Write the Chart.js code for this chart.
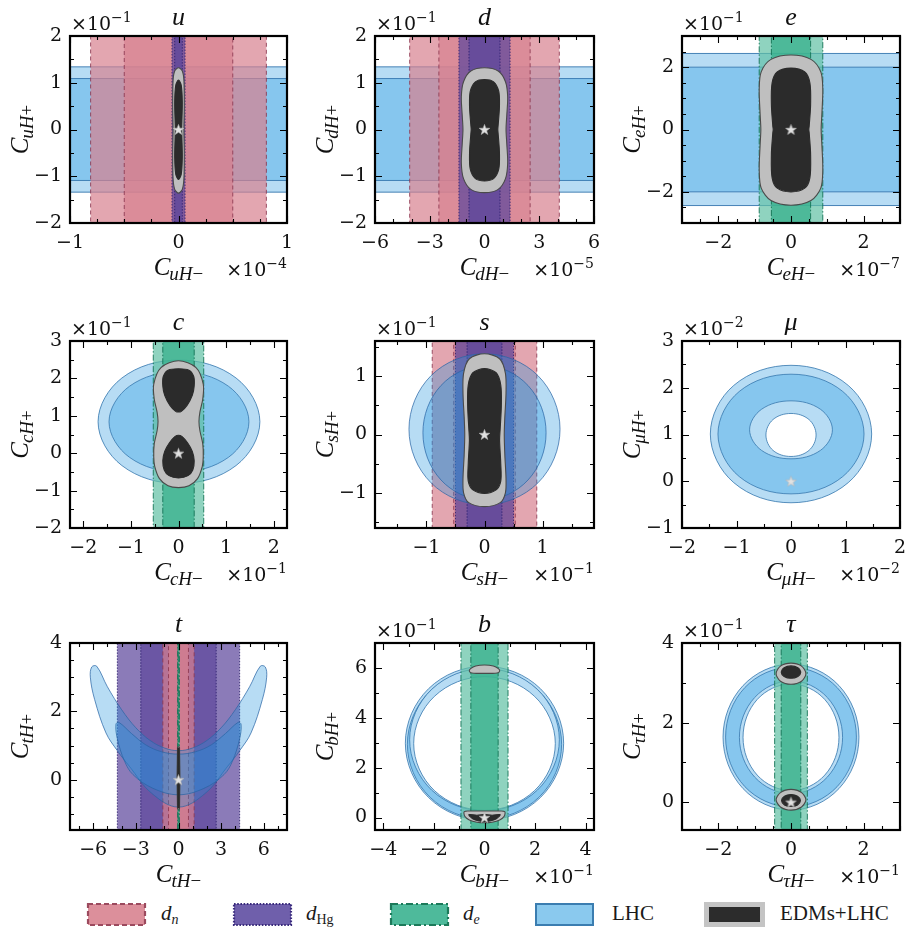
<!DOCTYPE html>
<html>
<head>
<meta charset="utf-8">
<script src="https://cdn.jsdelivr.net/npm/chart.js@4.4.1/dist/chart.umd.min.js"></script>
<style>
  html, body { margin: 0; padding: 0; background: #fff; overflow: hidden; }
  #wrap { position: relative; width: 905px; height: 947px; overflow: hidden; background: #fff; }
  canvas.panel { position: absolute; }
  .key { position: absolute; top: 902px; height: 26px; }
  .lab { position: absolute; top: 900px; font-family: 'Liberation Serif', serif; font-size: 21px; color: #1a1a1a; line-height: 26px; white-space: nowrap; }
  .lab sub { font-size: 14px; vertical-align: -4px; line-height: 0; }
</style>
</head>
<body>
<div id="wrap">
  <svg class="key" style="left:86px" width="62" height="26"><rect x="2" y="2" width="57" height="21" fill="#dc8f9b" stroke="#9b4a5e" stroke-width="2.2" stroke-dasharray="5,3"/></svg>
  <div class="lab" style="left:161px"><i>d</i><sub><i>n</i></sub></div>
  <svg class="key" style="left:232px" width="62" height="26"><rect x="2" y="2" width="57" height="21" fill="#6f5fab" stroke="#3a2b7c" stroke-width="2.2" stroke-dasharray="1.6,1.6"/></svg>
  <div class="lab" style="left:306px"><i>d</i><sub>Hg</sub></div>
  <svg class="key" style="left:389px" width="62" height="26"><rect x="2" y="2" width="57" height="21" fill="#4eba9b" stroke="#1c7a5a" stroke-width="2.2" stroke-dasharray="7,3,2,3"/></svg>
  <div class="lab" style="left:463px"><i>d</i><sub><i>e</i></sub></div>
  <svg class="key" style="left:534px" width="62" height="26"><rect x="2" y="2" width="57" height="21" fill="#8ac9ee" stroke="#3b7db0" stroke-width="2"/></svg>
  <div class="lab" style="left:612px">LHC</div>
  <svg class="key" style="left:704px" width="62" height="26"><rect x="2.5" y="2.5" width="56" height="20" fill="#2c2c2c" stroke="#c4c4c4" stroke-width="5"/></svg>
  <div class="lab" style="left:780px">EDMs+LHC</div>
</div>
<script>
// ---------- axes of the nine flavour panels ----------
const flavours   = ['u', 'd', 'e', 'c', 's', 'μ', 't', 'b', 'τ'];
const xLimits    = [[-1, 1], [-6, 6], [-3, 3], [-2.28, 2.28], [-1.885, 1.885], [-2, 2], [-7.63, 7.63], [-4.33, 4.33], [-3, 3]];
const yLimits    = [[-2, 2], [-2, 2], [-3, 3], [-2, 3], [-1.605, 1.605], [-1, 3], [-1.47, 4], [-0.5, 7], [-0.7, 4]];
const xTickVals  = [[-1, 0, 1], [-6, -3, 0, 3, 6], [-2, 0, 2], [-2, -1, 0, 1, 2], [-1, 0, 1], [-2, -1, 0, 1, 2], [-6, -3, 0, 3, 6], [-4, -2, 0, 2, 4], [-2, 0, 2]];
const yTickVals  = [[-2, -1, 0, 1, 2], [-2, -1, 0, 1, 2], [-2, 0, 2], [-2, -1, 0, 1, 2, 3], [-1, 0, 1], [-1, 0, 1, 2, 3], [0, 2, 4], [0, 2, 4, 6], [0, 2, 4]];
const xMinorStep = [0.25, 1, 0.5, 0.5, 0.5, 0.5, 1, 1, 0.5];
const yMinorStep = [0.5, 0.5, 0.5, 0.5, 0.5, 0.5, 0.5, 1, 1];
const xExponent  = [-4, -5, -7, -1, -1, -2, null, -1, -1];
const yExponent  = [-1, -1, -1, -1, -1, -2, null, -1, -1];

// ---------- EDM bounds: [1σ, 2σ] half-widths in C_{fH-} ----------
const dnHalfWidths  = [[0.50, 0.81], [2.5, 4.1], null, null, [0.53, 0.90], null, [0.70, 1.10], null, null];
const dHgHalfWidths = [[0.035, 0.06], [0.85, 1.4], null, null, [0.30, 0.50], null, [2.65, 4.3], null, null];
const deHalfWidths  = [null, null, [0.54, 0.875], [0.33, 0.53], null, null, [0.03, 0.06], [0.54, 0.93], [0.27, 0.45]];

// ---------- LHC: [1σ, 2σ] half-widths in C_{fH+} (first row) ----------
const lhcStripHalfWidths = [[1.09, 1.34], [1.09, 1.34], [2.0, 2.44], null, null, null, null, null, null];

// ---------- LHC contours (C_{fH-}, C_{fH+}) ----------
const lhcC2s = [[1.71, 0.84], [1.21, 2.01], [0.01, 2.49], [-1.19, 2.01], [-1.69, 0.84], [-1.19, -0.33], [0.01, -0.81], [1.21, -0.33]];
const lhcC1s = [[1.48, 0.84], [1.05, 1.79], [0.01, 2.18], [-1.03, 1.79], [-1.46, 0.84], [-1.03, -0.11], [0.01, -0.50], [1.05, -0.11]];
const lhcS2s = [[1.30, 0.09], [0.92, 1.01], [0, 1.385], [-0.92, 1.01], [-1.30, 0.09], [-0.92, -0.83], [0, -1.205], [0.92, -0.83]];
const lhcS1s = [[1.06, 0.03], [0.75, 0.84], [0, 1.18], [-0.75, 0.84], [-1.06, 0.03], [-0.75, -0.78], [0, -1.12], [0.75, -0.78]];
const lhcMu2sOut = [[1.48, 1.01], [1.05, 2.05], [0, 2.48], [-1.05, 2.05], [-1.48, 1.01], [-1.05, -0.03], [0, -0.46], [1.05, -0.03]];
const lhcMu1sOut = [[1.34, 1.01], [0.95, 1.92], [0, 2.29], [-0.95, 1.92], [-1.34, 1.01], [-0.95, 0.10], [0, -0.27], [0.95, 0.10]];
const lhcMu1sIn  = [[0.76, 1.10], [0.54, 1.54], [0, 1.72], [-0.54, 1.54], [-0.76, 1.10], [-0.54, 0.66], [0, 0.48], [0.54, 0.66]];
const lhcMu2sIn  = [[0.46, 0.99], [0.33, 1.32], [0, 1.45], [-0.33, 1.32], [-0.46, 0.99], [-0.33, 0.66], [0, 0.53], [0.33, 0.66]];
const lhcT2s = [[-5.75, 3.32], [-5.0, 2.72], [-4.0, 2.05], [-3.0, 1.52], [-2.0, 1.15], [-1.0, 0.93], [0, 0.85], [1.0, 0.93], [2.0, 1.15], [3.0, 1.52], [4.0, 2.05], [5.0, 2.72], [5.75, 3.32], [6.1, 3.3], [6.2, 3.0], [5.9, 2.35], [5.1, 1.37], [4.3, 0.85], [3.45, 0.39], [1.9, -0.39], [0, -0.80], [-1.9, -0.39], [-3.45, 0.39], [-4.3, 0.85], [-5.1, 1.37], [-5.9, 2.35], [-6.2, 3.0], [-6.1, 3.3]];
const lhcT1s = [[-4.2, 1.68], [-3.3, 1.35], [-2.3, 1.02], [-1.2, 0.82], [0, 0.75], [1.2, 0.82], [2.3, 1.02], [3.3, 1.35], [4.2, 1.68], [4.4, 1.62], [4.3, 1.2], [3.8, 0.55], [3.2, 0.15], [1.8, -0.25], [0, -0.44], [-1.8, -0.25], [-3.2, 0.15], [-3.8, 0.55], [-4.3, 1.2], [-4.4, 1.62]];
const lhcB2sOut = [[3.13, 2.98], [2.21, 5.17], [0, 6.07], [-2.21, 5.17], [-3.13, 2.98], [-2.21, 0.80], [0, -0.11], [2.21, 0.80]];
const lhcB1sOut = [[3.05, 2.94], [2.16, 5.06], [0, 5.94], [-2.16, 5.06], [-3.05, 2.94], [-2.16, 0.82], [0, -0.06], [2.16, 0.82]];
const lhcB1sIn  = [[2.96, 3.12], [2.09, 5.14], [0, 5.98], [-2.09, 5.14], [-2.96, 3.12], [-2.09, 1.10], [0, 0.27], [2.09, 1.10]];
const lhcB2sIn  = [[2.80, 2.97], [1.98, 4.86], [0, 5.65], [-1.98, 4.86], [-2.80, 2.97], [-1.98, 1.08], [0, 0.29], [1.98, 1.08]];
const lhcTau2sOut = [[1.87, 1.635], [1.32, 2.93], [0, 3.47], [-1.32, 2.93], [-1.87, 1.635], [-1.32, 0.34], [0, -0.20], [1.32, 0.34]];
const lhcTau1sOut = [[1.80, 1.635], [1.27, 2.88], [0, 3.39], [-1.27, 2.88], [-1.80, 1.635], [-1.27, 0.39], [0, -0.12], [1.27, 0.39]];
const lhcTau1sIn  = [[1.42, 1.63], [1.00, 2.63], [0, 3.05], [-1.00, 2.63], [-1.42, 1.63], [-1.00, 0.63], [0, 0.21], [1.00, 0.63]];
const lhcTau2sIn  = [[1.32, 1.63], [0.93, 2.58], [0, 2.97], [-0.93, 2.58], [-1.32, 1.63], [-0.93, 0.68], [0, 0.29], [0.93, 0.68]];

// ---------- EDMs+LHC combined contours ----------
const comboU2s = [[0, 1.32], [0.035, 1.25], [0.05, 1.05], [0.053, 0.5], [0.05, 0], [0.053, -0.5], [0.05, -1.05], [0.035, -1.28], [0, -1.36], [-0.035, -1.28], [-0.05, -1.05], [-0.053, -0.5], [-0.05, 0], [-0.053, 0.5], [-0.05, 1.05], [-0.035, 1.25]];
const comboU1s = [[0, 1.06], [0.025, 0.95], [0.035, 0.6], [0.031, 0.15], [0.029, 0], [0.031, -0.15], [0.035, -0.6], [0.025, -0.96], [0, -1.07], [-0.025, -0.96], [-0.035, -0.6], [-0.031, -0.15], [-0.029, 0], [-0.031, 0.15], [-0.035, 0.6], [-0.025, 0.95]];
const comboD2s = [[0, 1.32], [0.75, 1.25], [1.15, 1.02], [1.27, 0.7], [1.22, 0.3], [1.18, 0], [1.22, -0.3], [1.27, -0.72], [1.15, -1.05], [0.75, -1.28], [0, -1.35], [-0.75, -1.28], [-1.15, -1.05], [-1.27, -0.72], [-1.22, -0.3], [-1.18, 0], [-1.22, 0.3], [-1.27, 0.7], [-1.15, 1.02], [-0.75, 1.25]];
const comboD1s = [[0, 1.07], [0.5, 1.02], [0.78, 0.82], [0.82, 0.5], [0.75, 0.1], [0.73, 0], [0.75, -0.1], [0.82, -0.5], [0.78, -0.85], [0.5, -1.05], [0, -1.10], [-0.5, -1.05], [-0.78, -0.85], [-0.82, -0.5], [-0.75, -0.1], [-0.73, 0], [-0.75, 0.1], [-0.82, 0.5], [-0.78, 0.82], [-0.5, 1.02]];
const comboE2s = [[0, 2.39], [0.55, 2.25], [0.82, 1.85], [0.875, 1.3], [0.85, 0.5], [0.83, 0], [0.85, -0.5], [0.875, -1.3], [0.82, -1.88], [0.55, -2.28], [0, -2.43], [-0.55, -2.28], [-0.82, -1.88], [-0.875, -1.3], [-0.85, -0.5], [-0.83, 0], [-0.85, 0.5], [-0.875, 1.3], [-0.82, 1.85], [-0.55, 2.25]];
const comboE1s = [[0, 1.97], [0.38, 1.85], [0.52, 1.5], [0.54, 0.8], [0.5, 0.1], [0.49, 0], [0.5, -0.1], [0.54, -0.8], [0.52, -1.55], [0.38, -1.88], [0, -2.0], [-0.38, -1.88], [-0.52, -1.55], [-0.54, -0.8], [-0.5, -0.1], [-0.49, 0], [-0.5, 0.1], [-0.54, 0.8], [-0.52, 1.5], [-0.38, 1.85]];
const comboC2s = [[0, 2.47], [0.368, 2.29], [0.52, 1.85], [0.51, 1.45], [0.45, 1.10], [0.43, 0.85], [0.45, 0.60], [0.51, 0.25], [0.52, -0.10], [0.50, -0.35], [0.40, -0.68], [0.22, -0.87], [0, -0.92], [-0.22, -0.87], [-0.40, -0.68], [-0.50, -0.35], [-0.52, -0.10], [-0.51, 0.25], [-0.45, 0.60], [-0.43, 0.85], [-0.45, 1.10], [-0.51, 1.45], [-0.52, 1.85], [-0.368, 2.29]];
const comboC1sUp = [[0, 2.26], [0.22, 2.22], [0.32, 2.05], [0.33, 1.80], [0.29, 1.55], [0.18, 1.28], [0.06, 1.12], [0, 1.10], [-0.06, 1.12], [-0.18, 1.28], [-0.29, 1.55], [-0.33, 1.80], [-0.32, 2.05], [-0.22, 2.22]];
const comboC1sLo = [[0, 0.48], [0.07, 0.45], [0.19, 0.28], [0.29, 0.05], [0.33, -0.20], [0.30, -0.45], [0.20, -0.60], [0, -0.66], [-0.20, -0.60], [-0.30, -0.45], [-0.33, -0.20], [-0.29, 0.05], [-0.19, 0.28], [-0.07, 0.45]];
const comboS2s = [[0, 1.387], [0.26, 1.30], [0.36, 1.05], [0.37, 0.7], [0.35, 0.3], [0.34, 0], [0.35, -0.35], [0.37, -0.75], [0.36, -1.0], [0.27, -1.17], [0, -1.238], [-0.27, -1.17], [-0.36, -1.0], [-0.37, -0.75], [-0.35, -0.35], [-0.34, 0], [-0.35, 0.3], [-0.37, 0.7], [-0.36, 1.05], [-0.26, 1.30]];
const comboS1s = [[0, 1.13], [0.2, 1.06], [0.28, 0.85], [0.29, 0.5], [0.27, 0.1], [0.26, -0.1], [0.28, -0.5], [0.28, -0.8], [0.2, -0.95], [0, -1.01], [-0.2, -0.95], [-0.28, -0.8], [-0.28, -0.5], [-0.26, -0.1], [-0.27, 0.1], [-0.29, 0.5], [-0.28, 0.85], [-0.2, 1.06]];
const comboT2s = [[0.07, 0.95], [0.07, -0.85], [-0.07, -0.85], [-0.07, 0.95]];
const comboT1s = [[0.04, 0.92], [0.04, -0.82], [-0.04, -0.82], [-0.04, 0.92]];
const comboB2sUp = [[0, 6.12], [0.35, 6.08], [0.55, 5.97], [0.60, 5.87], [0.50, 5.80], [0, 5.78], [-0.50, 5.80], [-0.60, 5.87], [-0.55, 5.97], [-0.35, 6.08]];
const comboB2sLo = [[0, 0.26], [0.55, 0.26], [0.80, 0.24], [0.78, 0.05], [0.60, -0.10], [0.30, -0.19], [0, -0.21], [-0.30, -0.19], [-0.60, -0.10], [-0.78, 0.05], [-0.80, 0.24], [-0.55, 0.26]];
const comboB1sLo = [[0, 0.12], [0.30, 0.09], [0.62, 0.12], [0.45, -0.06], [0.20, -0.14], [0, -0.16], [-0.20, -0.14], [-0.45, -0.06], [-0.62, 0.12], [-0.30, 0.09]];
const comboTau2sUp = [[0.41, 3.23], [0.29, 3.42], [0, 3.495], [-0.29, 3.42], [-0.41, 3.23], [-0.29, 3.04], [0, 2.965], [0.29, 3.04]];
const comboTau1sUp = [[0.27, 3.27], [0.19, 3.38], [0, 3.425], [-0.19, 3.38], [-0.27, 3.27], [-0.19, 3.16], [0, 3.115], [0.19, 3.16]];
const comboTau2sLo = [[0.41, 0.06], [0.29, 0.24], [0, 0.32], [-0.29, 0.24], [-0.41, 0.06], [-0.29, -0.12], [0, -0.20], [0.29, -0.12]];
const comboTau1sLo = [[0.26, 0.04], [0.18, 0.15], [0, 0.19], [-0.18, 0.15], [-0.26, 0.04], [-0.18, -0.07], [0, -0.11], [0.18, -0.07]];

// ---------- SM point ----------
const smX = [0, 0, 0, 0, 0, 0, 0, 0, 0];
const smY = [0, 0, 0, 0, 0, 0, 0, 0, 0];

// contour lists per panel, drawn in order (later on top)
const lhcContours = [
  null, null, null,
  [['out', lhcC2s], ['in', lhcC1s]],
  [['out', lhcS2s], ['in', lhcS1s]],
  [['out', lhcMu2sOut], ['in', lhcMu1sOut], ['out', lhcMu1sIn], ['hole', lhcMu2sIn]],
  [['out', lhcT2s], ['in', lhcT1s]],
  [['out', lhcB2sOut], ['in', lhcB1sOut], ['out', lhcB1sIn], ['hole', lhcB2sIn]],
  [['out', lhcTau2sOut], ['in', lhcTau1sOut], ['out', lhcTau1sIn], ['hole', lhcTau2sIn]]
];
// LHC regions painted translucently above the EDM bands in these panels
const lhcAbove = [false, false, false, false, true, false, true, false, false];

const comboContours = [
  [['gray', comboU2s], ['black', comboU1s]],
  [['gray', comboD2s], ['black', comboD1s]],
  [['gray', comboE2s], ['black', comboE1s]],
  [['gray', comboC2s], ['black', comboC1sUp], ['black', comboC1sLo]],
  [['gray', comboS2s], ['black', comboS1s]],
  [],
  [['gray', comboT2s], ['black', comboT1s]],
  [['gray', comboB2sUp], ['gray', comboB2sLo], ['black', comboB1sLo]],
  [['gray', comboTau2sUp], ['black', comboTau1sUp], ['gray', comboTau2sLo], ['black', comboTau1sLo]]
];

// ---------- styling ----------
const SERIF = "'Liberation Serif', 'DejaVu Serif', serif";
const NUMS = "'DejaVu Serif', 'Liberation Serif', serif";
const lhcFill = { out: '#b7dcf4', in: '#86c6ee', hole: '#ffffff' };
const lhcGlass = 'rgba(30,145,220,0.32)';
const LHC_EDGE = 'rgba(55,120,175,0.9)';
const comboFill = { gray: '#bfbfbf', black: '#2b2b2b' };
const comboEdge = { gray: '#4a4a4a', black: '#2b2b2b' };
const bandStyle = {
  dn:  { outer: 'rgba(215,128,143,0.70)', inner: 'rgba(215,128,143,0.70)', edge: 'rgba(140,55,80,0.85)', dash: [4, 3] },
  dHg: { outer: 'rgba(94,72,157,0.72)',  inner: 'rgba(94,72,157,0.72)',  edge: 'rgba(45,30,110,0.85)', dash: [1.5, 1.5] },
  de:  { outer: 'rgba(95,192,164,0.70)', inner: 'rgba(55,176,140,0.75)', edge: 'rgba(20,115,85,0.9)',  dash: [6, 2, 1.5, 2] }
};

const colLeft = [70, 375, 682], colWidth = [218, 220, 219];
const rowTop = [36, 341, 643], plotHeight = 187;
const AXIS_W = 70, AXIS_H = 62, PAD_TOP = 40, PAD_RIGHT = 6;

function minus(v) {
  return v < 0 ? '\u2212' + Math.abs(v) : String(v);
}

function starMarker() {
  const c = document.createElement('canvas');
  c.width = 13; c.height = 13;
  const g = c.getContext('2d');
  g.beginPath();
  for (let k = 0; k < 10; k++) {
    const r = k % 2 ? 2.3 : 5.6;
    const a = -Math.PI / 2 + k * Math.PI / 5;
    const px = 6.5 + r * Math.cos(a), py = 7 + r * Math.sin(a);
    if (k) g.lineTo(px, py); else g.moveTo(px, py);
  }
  g.closePath();
  g.fillStyle = '#e2e2e2';
  g.fill();
  g.strokeStyle = '#b5b5b5';
  g.lineWidth = 0.6;
  g.stroke();
  return c;
}
const STAR = starMarker();

function shape(pts, fillColor, edgeColor, edgeWidth, dash, tension) {
  return {
    data: pts.map(p => ({ x: p[0], y: p[1] })),
    showLine: true, fill: 'shape', closed: true,
    backgroundColor: fillColor, borderColor: edgeColor, borderWidth: edgeWidth,
    borderDash: dash, tension: tension,
    pointRadius: 0, pointHoverRadius: 0, pointHitRadius: 0
  };
}

function buildDatasets(i) {
  const [x0, x1] = xLimits[i], [y0, y1] = yLimits[i];
  const xa = x0 - (x1 - x0), xb = x1 + (x1 - x0);
  const ya = y0 - (y1 - y0), yb = y1 + (y1 - y0);
  const layers = [];

  const lhcLayer = (glass) => {
    const strip = lhcStripHalfWidths[i];
    if (strip) {
      layers.push(shape([[xa, -strip[1]], [xb, -strip[1]], [xb, strip[1]], [xa, strip[1]]], lhcFill.out, LHC_EDGE, 1, [], 0));
      layers.push(shape([[xa, -strip[0]], [xb, -strip[0]], [xb, strip[0]], [xa, strip[0]]], lhcFill.in, LHC_EDGE, 1, [], 0));
    }
    (lhcContours[i] || []).forEach(([lvl, pts]) => {
      layers.push(shape(pts, glass ? lhcGlass : lhcFill[lvl], glass ? 'rgba(40,100,165,0.8)' : LHC_EDGE, 0.9, [], 0.37));
    });
  };

  if (!lhcAbove[i]) lhcLayer(false);

  const bands = [['dn', dnHalfWidths[i]], ['dHg', dHgHalfWidths[i]], ['de', deHalfWidths[i]]]
    .filter(b => b[1])
    .sort((a, b) => b[1][1] - a[1][1]);
  for (const [key, hw] of bands) {
    const st = bandStyle[key];
    layers.push(shape([[-hw[1], ya], [hw[1], ya], [hw[1], yb], [-hw[1], yb]], st.outer, st.edge, 1, st.dash, 0));
    layers.push(shape([[-hw[0], ya], [hw[0], ya], [hw[0], yb], [-hw[0], yb]], st.inner, st.edge, 1, st.dash, 0));
  }

  if (lhcAbove[i]) lhcLayer(true);

  (comboContours[i] || []).forEach(([lvl, pts]) => {
    layers.push(shape(pts, comboFill[lvl], comboEdge[lvl], 1.1, [], 0.3));
  });

  layers.push({
    data: [{ x: smX[i], y: smY[i] }], showLine: false, fill: false,
    pointStyle: STAR, pointRadius: 6, pointHoverRadius: 6
  });

  layers.forEach((d, k) => { d.order = layers.length - k; });
  return layers;
}

// closed outlines: let the line element join its last point back to the first
const closeOutlines = {
  id: 'closeOutlines',
  afterDatasetUpdate(chart, args) {
    const ds = chart.data.datasets[args.index];
    if (ds && ds.closed && args.meta.dataset) {
      args.meta.dataset._loop = true;
      args.meta.dataset._fullLoop = true;
    }
  }
};

function drawRich(ctx, parts, x, y, align) {
  let total = 0;
  const fontOf = p => (p.italic ? 'italic ' : '') + p.size + 'px ' + (p.num ? NUMS : SERIF);
  for (const p of parts) {
    ctx.font = fontOf(p);
    p.w = ctx.measureText(p.t).width + (p.kern || 0);
    total += p.w;
  }
  let cx = align === 'center' ? x - total / 2 : align === 'right' ? x - total : x;
  for (const p of parts) {
    ctx.font = fontOf(p);
    ctx.fillText(p.t, cx, y + (p.dy || 0));
    cx += p.w;
  }
}

// frame, inward ticks on all sides, titles, axis names and exponents
const decorations = {
  id: 'decorations',
  afterDatasetsDraw(chart, args, opts) {
    const i = opts.panel;
    const { ctx, chartArea: a, scales: { x, y } } = chart;
    ctx.save();
    ctx.strokeStyle = '#000';
    ctx.lineWidth = 1.1;
    const minors = (lo, hi, step) => {
      const out = [];
      for (let v = Math.ceil(lo / step - 1e-9) * step; v <= hi + 1e-9; v += step) out.push(+v.toFixed(6));
      return out;
    };
    const xs = minors(xLimits[i][0], xLimits[i][1], xMinorStep[i]);
    const ys = minors(yLimits[i][0], yLimits[i][1], yMinorStep[i]);
    ctx.beginPath();
    for (const v of xs) {
      const len = xTickVals[i].some(t => Math.abs(t - v) < 1e-6) ? 7 : 4;
      const px = Math.round(x.getPixelForValue(v)) + 0.5;
      ctx.moveTo(px, a.bottom); ctx.lineTo(px, a.bottom - len);
      ctx.moveTo(px, a.top); ctx.lineTo(px, a.top + len);
    }
    for (const v of ys) {
      const len = yTickVals[i].some(t => Math.abs(t - v) < 1e-6) ? 7 : 4;
      const py = Math.round(y.getPixelForValue(v)) + 0.5;
      ctx.moveTo(a.left, py); ctx.lineTo(a.left + len, py);
      ctx.moveTo(a.right, py); ctx.lineTo(a.right - len, py);
    }
    ctx.stroke();
    ctx.lineWidth = 2.2;
    ctx.strokeRect(a.left, a.top, a.right - a.left, a.bottom - a.top);
    ctx.restore();
  },
  afterDraw(chart, args, opts) {
    const i = opts.panel;
    const { ctx, chartArea: a } = chart;
    const f = flavours[i];
    const cxm = (a.left + a.right) / 2, cym = (a.top + a.bottom) / 2;
    ctx.save();
    ctx.fillStyle = '#111';
    ctx.textBaseline = 'alphabetic';
    drawRich(ctx, [{ t: f, size: 26, italic: true }], cxm, a.top - 11, 'center');
    if (yExponent[i] !== null) {
      drawRich(ctx, [{ t: '\u00d710', size: 19, num: true }, { t: minus(yExponent[i]), size: 14, num: true, dy: -8 }], a.left + 1, a.top - 6, 'left');
    }
    if (xExponent[i] !== null) {
      drawRich(ctx, [{ t: '\u00d710', size: 19, num: true }, { t: minus(xExponent[i]), size: 14, num: true, dy: -8 }], a.right, a.bottom + 53, 'right');
    }
    drawRich(ctx, [{ t: 'C', size: 25, italic: true, kern: -1 }, { t: f + 'H', size: 19, italic: true, dy: 5 }, { t: '\u2212', size: 19, dy: 5 }], cxm, a.bottom + 52, 'center');
    ctx.translate(a.left - 42, cym);
    ctx.rotate(-Math.PI / 2);
    drawRich(ctx, [{ t: 'C', size: 25, italic: true, kern: -1 }, { t: f + 'H', size: 19, italic: true, dy: 5 }, { t: '+', size: 19, dy: 5 }], 0, 0, 'center');
    ctx.restore();
  }
};

const wrap = document.getElementById('wrap');
for (let i = 0; i < 9; i++) {
  const col = i % 3, row = Math.floor(i / 3);
  const cv = document.createElement('canvas');
  cv.className = 'panel';
  const w = colWidth[col] + AXIS_W + PAD_RIGHT, h = plotHeight + PAD_TOP + AXIS_H;
  cv.width = w; cv.height = h;
  cv.style.left = (colLeft[col] - AXIS_W) + 'px';
  cv.style.top = (rowTop[row] - PAD_TOP) + 'px';
  cv.style.width = w + 'px'; cv.style.height = h + 'px';
  wrap.appendChild(cv);

  const tickFont = { family: NUMS, size: 19 };
  new Chart(cv, {
    type: 'scatter',
    data: { datasets: buildDatasets(i) },
    options: {
      responsive: false, animation: false, devicePixelRatio: 1, events: [],
      layout: { padding: { top: PAD_TOP, right: PAD_RIGHT, left: 0, bottom: 0 } },
      plugins: { legend: { display: false }, tooltip: { enabled: false }, decorations: { panel: i } },
      scales: {
        x: {
          type: 'linear', position: 'bottom', min: xLimits[i][0], max: xLimits[i][1],
          grid: { display: false, drawTicks: false }, border: { display: false },
          ticks: { font: tickFont, color: '#111', padding: 9, autoSkip: false, maxRotation: 0, callback: v => minus(v) },
          afterBuildTicks: s => { s.ticks = xTickVals[i].map(v => ({ value: v })); },
          afterFit: s => { s.height = AXIS_H; s.paddingLeft = 0; s.paddingRight = 0; }
        },
        y: {
          type: 'linear', position: 'left', min: yLimits[i][0], max: yLimits[i][1],
          grid: { display: false, drawTicks: false }, border: { display: false },
          ticks: { font: tickFont, color: '#111', padding: 8, autoSkip: false, callback: v => minus(v) },
          afterBuildTicks: s => { s.ticks = yTickVals[i].map(v => ({ value: v })); },
          afterFit: s => { s.width = AXIS_W; s.paddingTop = 0; s.paddingBottom = 0; }
        }
      }
    },
    plugins: [closeOutlines, decorations]
  });
}
</script>
</body>
</html>
